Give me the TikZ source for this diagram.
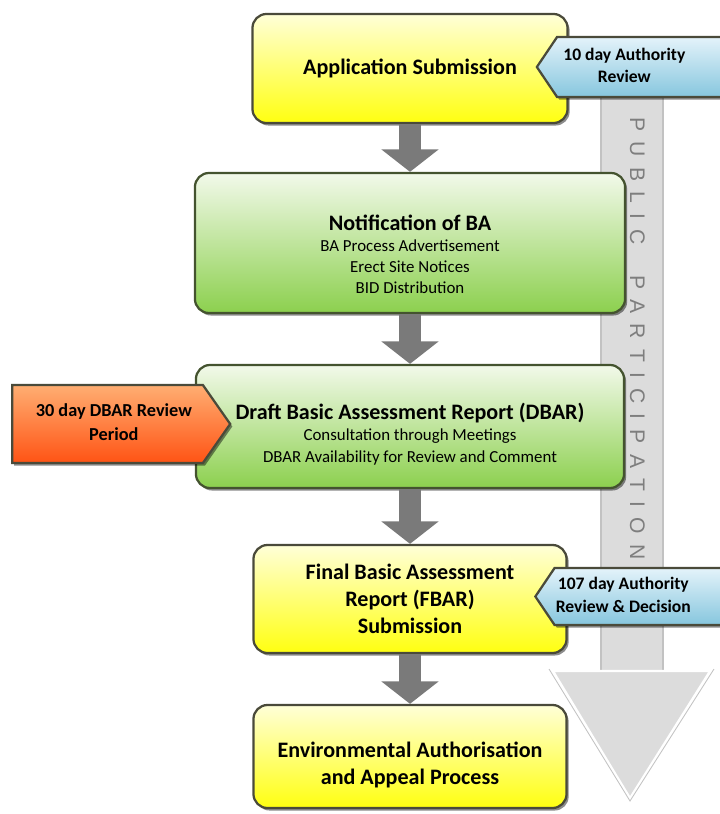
\documentclass[tikz,border=0pt]{standalone}
\usepackage{fontspec}
\setmainfont{Carlito}
\newfontfamily\ppfont{Liberation Sans}
\usetikzlibrary{arrows.meta,shapes.symbols,shadows}

\definecolor{boxline}{HTML}{4A4A3A}
\definecolor{grnline}{HTML}{44532F}
\definecolor{yeltop}{HTML}{FFFFD8}
\definecolor{yelbot}{HTML}{FFFF10}
\definecolor{grntop}{HTML}{F2F9EA}
\definecolor{grnbot}{HTML}{8CD04E}
\definecolor{blutop}{HTML}{E4F3FA}
\definecolor{blubot}{HTML}{86C6DE}
\definecolor{orgtop}{HTML}{FFAE72}
\definecolor{orgbot}{HTML}{FF5314}
\definecolor{flowgray}{HTML}{7A7A7A}
\definecolor{ppgray}{HTML}{DCDCDC}
\definecolor{ppedge}{HTML}{C2C2C2}
\definecolor{pptext}{HTML}{7E7E7E}

\begin{document}
\begin{tikzpicture}[x=0.025cm,y=-0.025cm,
  stage/.style={draw=boxline, line width=1.6pt, rounded corners=10pt, align=center,
    inner sep=2pt, font=\fontsize{12}{15}\selectfont,
    drop shadow={shadow xshift=1.5pt, shadow yshift=-1.8pt, fill=black, opacity=0.45}},
  yelbox/.style={stage, top color=yeltop, bottom color=yelbot,
    font=\bfseries\fontsize{15.7}{19.3}\selectfont},
  grnbox/.style={stage, draw=grnline, top color=grntop, bottom color=grnbot},
  tag/.style={shape=signal, draw=boxline, line width=1.6pt, align=center, inner sep=0pt,
    font=\bfseries\fontsize{12.5}{16}\selectfont,
    drop shadow={shadow xshift=1.5pt, shadow yshift=-1.8pt, fill=black, opacity=0.45}},
  flow/.style={draw=flowgray, line width=15pt, -{Triangle[width=40pt,length=16pt]}}
]
\useasboundingbox (0,0) rectangle (720,814);

% public participation arrow, behind everything
\fill[ppgray] (601,60) rectangle (663,671);
\draw[ppedge, line width=1.2pt] (601,60) -- (601,671) (663,60) -- (663,671);
\filldraw[fill=ppgray, draw=white, line width=1.5pt] (553,671) -- (710,671) -- (630,798) -- cycle;
\draw[ppedge, line width=0.6pt] (549,669) -- (630,801) -- (714,669);

\node[yelbox, minimum width=7.875cm, minimum height=2.725cm] (app) at (410,68.5)
  {Application Submission};
\node[grnbox, minimum width=10.75cm, minimum height=3.5cm] (note) at (410,243)
  {{\rule{0pt}{27pt}\fontsize{15.7}{19}\bfseries Notification of BA}\\
   BA Process Advertisement\\ Erect Site Notices\\ BID Distribution};
\node[grnbox, minimum width=10.7cm, minimum height=3.075cm] (dbar) at (410,426.5)
  {{\rule{0pt}{22.5pt}\fontsize{15.7}{19}\bfseries Draft Basic Assessment Report (DBAR)}\\
   Consultation through Meetings\\ DBAR Availability for Review and Comment};
\node[yelbox, minimum width=7.825cm, minimum height=2.7cm] (fbar) at (410,599)
  {Final Basic Assessment\\ Report (FBAR)\\ Submission};
\node[yelbox, minimum width=7.825cm, minimum height=2.575cm] (env) at (410,756.5)
  {\rule{0pt}{22.5pt}Environmental Authorisation\\ and Appeal Process};

\draw[flow] (app) -- (note);
\draw[flow] (note) -- (dbar);
\draw[flow] (dbar) -- (fbar);
\draw[flow] (fbar) -- (env);

% review periods
\node[tag, signal to=west, signal from=nowhere, signal pointer angle=112,
  top color=blutop, bottom color=blubot, minimum width=4.675cm, minimum height=1.5cm]
  (rev1) at (640.5,67)
  {\begin{tabular}{@{}c@{}}10 day Authority\\ Review\end{tabular}\kern23pt};
\node[tag, signal to=west, signal from=nowhere, signal pointer angle=112,
  top color=blutop, bottom color=blubot, minimum width=4.725cm, minimum height=1.425cm]
  (rev2) at (639.5,596.5)
  {\begin{tabular}{@{}c@{}}107 day Authority\\ Review \& Decision\end{tabular}\kern23pt};
\node[tag, signal to=east, signal from=nowhere, signal pointer angle=110,
  top color=orgtop, bottom color=orgbot, minimum width=5.45cm, minimum height=1.95cm,
  font=\bfseries\fontsize{13}{17}\selectfont]
  (rev3) at (107.5,424)
  {\kern9pt\begin{tabular}{@{}c@{}}30 day DBAR Review\\ Period\end{tabular}};

\node[rotate=-90, text=pptext, inner sep=0pt, font=\ppfont\fontsize{15}{18}\selectfont]
  (pp) at (637.5,338.5)
  {\hbox to 314pt{P\hfill U\hfill B\hfill L\hfill I\hfill C\hfill\hfill\hfill
   P\hfill A\hfill R\hfill T\hfill I\hfill C\hfill I\hfill P\hfill A\hfill T\hfill I\hfill O\hfill N}};

\end{tikzpicture}
\end{document}
